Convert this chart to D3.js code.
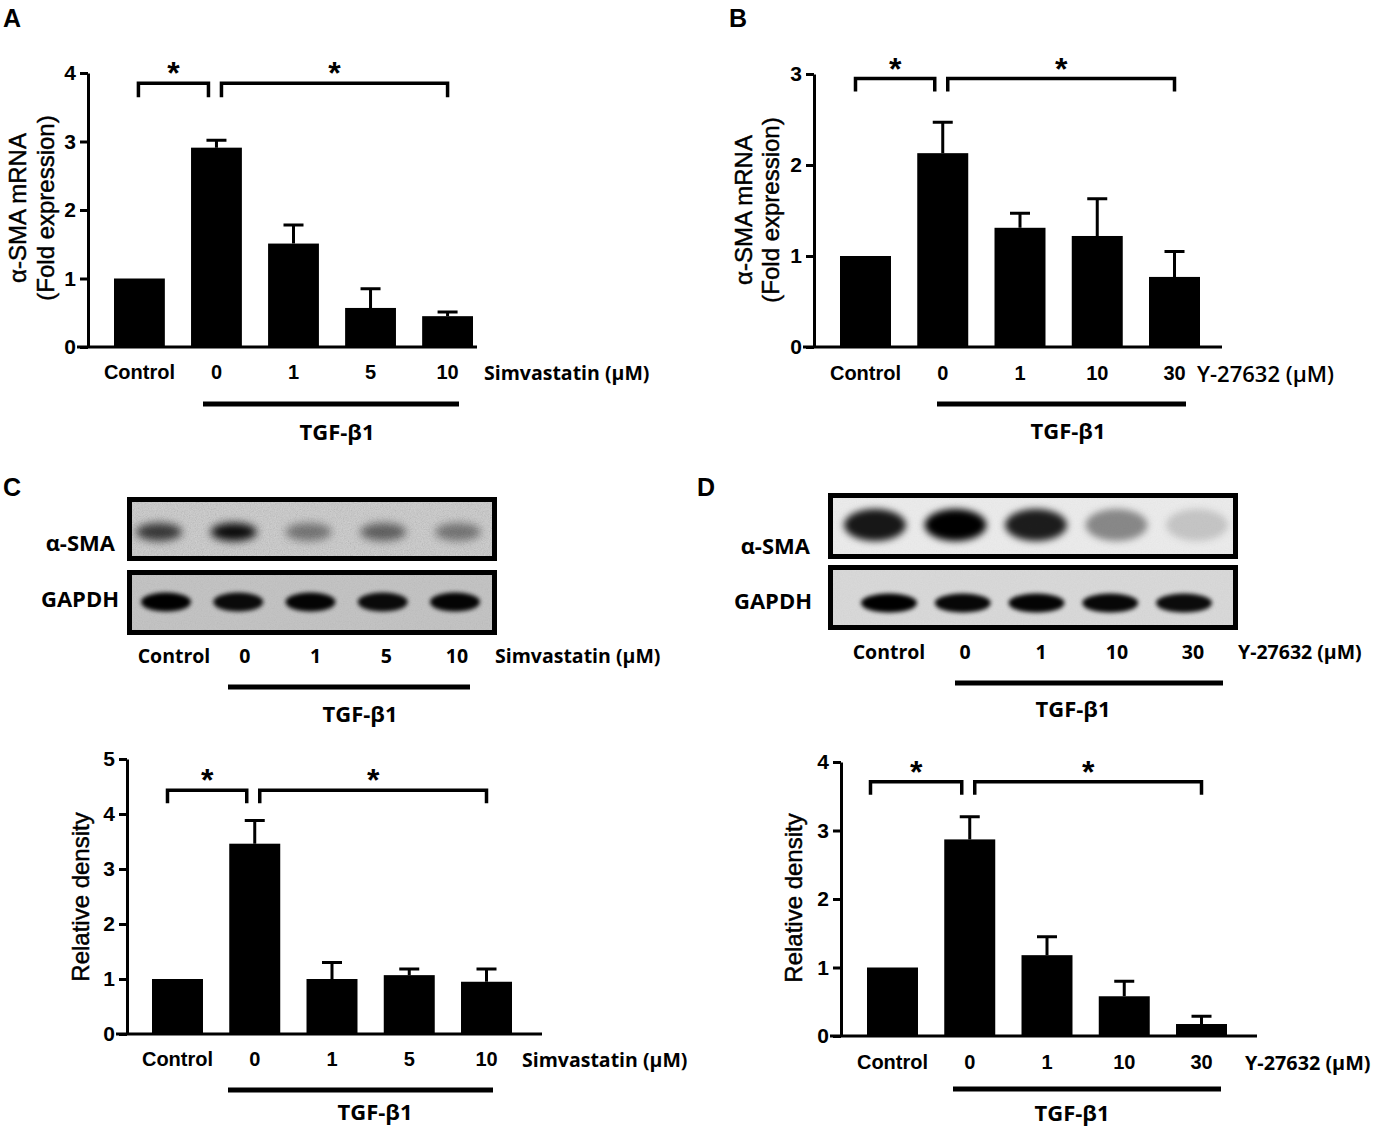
<!DOCTYPE html>
<html>
<head>
<meta charset="utf-8">
<style>
    body { margin: 0; background: #fff; }
    svg { display: block; }
    .axis .tick line, .axis .domain { stroke: #000; stroke-width: 3; }
    .lbl { font-family: "Liberation Sans", Arial, sans-serif; font-weight: bold; font-size: 20px; fill: #000; }
    .cal { font-family: "Open Sans", sans-serif; font-weight: 700; fill: #000; }
    .ytitle { font-family: "Liberation Sans", Arial, sans-serif; font-size: 24px; fill: #000; stroke: #000; stroke-width: 0.45px; }
    .letter { font-family: "Liberation Sans", Arial, sans-serif; font-weight: bold; font-size: 25px; }
    .star { font-family: "Liberation Sans", Arial, sans-serif; font-weight: bold; font-size: 32px; }
</style>
</head>
<body>
<svg width="1378" height="1129"></svg>

<script src="https://cdn.jsdelivr.net/npm/d3@7"></script>
<script>
// ---- data ----
const simGroups = ["Control", "0", "1", "5", "10"]
const rockGroups = ["Control", "0", "1", "10", "30"]

// A: alpha-SMA mRNA, simvastatin
const mrnaSimMean = [1.0, 2.91, 1.51, 0.57, 0.45]
const mrnaSimErr  = [0, 0.11, 0.27, 0.28, 0.06]
// B: alpha-SMA mRNA, Y-27632
const mrnaRockMean = [1.0, 2.13, 1.31, 1.22, 0.77]
const mrnaRockErr  = [0, 0.34, 0.16, 0.41, 0.28]
// C: relative density, simvastatin
const densSimMean = [1.0, 3.46, 1.0, 1.07, 0.95]
const densSimErr  = [0, 0.42, 0.30, 0.11, 0.23]
// D: relative density, Y-27632
const densRockMean = [1.0, 2.87, 1.18, 0.58, 0.175]
const densRockErr  = [0, 0.33, 0.27, 0.22, 0.115]

const ticksA = [0, 1, 2, 3, 4]
const ticksB = [0, 1, 2, 3]
const ticksC = [0, 1, 2, 3, 4, 5]
const ticksD = [0, 1, 2, 3, 4]

// western blot band darkness (0 = none, 1 = black)
const blotSimSMA   = [0.72, 0.95, 0.42, 0.52, 0.42]
const blotSimGAPDH = [1.0, 0.95, 0.98, 0.95, 0.98]
const blotRockSMA   = [0.9, 1.0, 0.88, 0.42, 0.16]
const blotRockGAPDH = [1.0, 0.97, 0.98, 0.97, 0.95]

let svg = d3.select("svg")
let defs = svg.append("defs")

function blurFilter(id, sd) {
    defs.append("filter").attr("id", id)
        .attr("x", "-60%").attr("y", "-120%").attr("width", "220%").attr("height", "340%")
        .append("feGaussianBlur").attr("stdDeviation", sd)
}
blurFilter("blur-soft", 4.5)
blurFilter("blur-mid", 3.5)
blurFilter("blur-hard", 2.2)

let grain = defs.append("filter").attr("id", "grain")
grain.append("feTurbulence").attr("type", "fractalNoise")
    .attr("baseFrequency", 0.85).attr("numOctaves", 2).attr("seed", 4)
grain.append("feColorMatrix").attr("type", "matrix")
    .attr("values", "1 0 0 0 0  1 0 0 0 0  1 0 0 0 0  0 0 0 0 1")

// ---- bar chart panels ----
let panels = [
    { groups: simGroups, mean: mrnaSimMean, err: mrnaSimErr, ticks: ticksA,
      axisX: 88, y0: 347, yTop: 73, bars: [114, 473], axisEnd: 477,
      title: ["α-SMA mRNA", "(Fold expression)"], titleX: [17, 45], titleY: 208,
      labelY: 372, unit: "Simvastatin (μM)", unitX: 484, unitSize: 19.5, unitWeight: 700,
      tgf: [203, 459, 404], tgfLabel: [337, 431], bracketV: 3.85, drop: 14, leftStart: -1 },
    { groups: rockGroups, mean: mrnaRockMean, err: mrnaRockErr, ticks: ticksB,
      axisX: 814, y0: 347, yTop: 74, bars: [840, 1200], axisEnd: 1222,
      title: ["α-SMA mRNA", "(Fold expression)"], titleX: [743, 770], titleY: 210,
      labelY: 373, unit: "Y-27632 (μM)", unitX: 1197, unitSize: 22, unitWeight: 600,
      tgf: [937, 1186, 404], tgfLabel: [1068, 430], bracketV: 2.95, drop: 13, leftStart: -10 },
    { groups: simGroups, mean: densSimMean, err: densSimErr, ticks: ticksC,
      axisX: 127, y0: 1034, yTop: 759, bars: [152, 512], axisEnd: 542,
      title: ["Relative density"], titleX: [80], titleY: 897,
      labelY: 1059, unit: "Simvastatin (μM)", unitX: 522, unitSize: 19.5, unitWeight: 700,
      tgf: [228, 493, 1090], tgfLabel: [375, 1111], bracketV: 4.43, drop: 13, leftStart: -10 },
    { groups: rockGroups, mean: densRockMean, err: densRockErr, ticks: ticksD,
      axisX: 841, y0: 1036, yTop: 762, bars: [867, 1227], axisEnd: 1257,
      title: ["Relative density"], titleX: [793], titleY: 898,
      labelY: 1062, unit: "Y-27632 (μM)", unitX: 1245, unitSize: 19.8, unitWeight: 700,
      tgf: [953, 1221, 1089], tgfLabel: [1072, 1112], bracketV: 3.71, drop: 13, leftStart: -22 }
]

panels.forEach(p => {
    let g = svg.append("g")
    let max = d3.max(p.ticks)

    let y = d3.scaleLinear().domain([0, max]).range([p.y0, p.yTop])
    let x = d3.scaleBand().domain(p.groups).range(p.bars)
        .paddingInner(0.34).paddingOuter(0)
    let cx = d => x(d) + x.bandwidth() / 2

    // bars
    g.selectAll("rect.bar")
        .data(p.groups)
        .join("rect")
        .attr("class", "bar")
        .attr("x", d => x(d))
        .attr("width", x.bandwidth())
        .attr("y", (d, i) => y(p.mean[i]))
        .attr("height", (d, i) => p.y0 - y(p.mean[i]))
        .attr("fill", "#000")

    // error bars (upper only)
    g.selectAll("path.err")
        .data(p.groups.filter((d, i) => p.err[i] > 0))
        .join("path")
        .attr("class", "err")
        .attr("d", d => {
            let i = p.groups.indexOf(d)
            let top = y(p.mean[i] + p.err[i])
            return `M${cx(d)},${y(p.mean[i])}V${top}M${cx(d) - 10},${top}H${cx(d) + 10}`
        })
        .attr("stroke", "#000").attr("stroke-width", 3).attr("fill", "none")

    // axes
    g.append("g")
        .attr("class", "axis")
        .attr("transform", `translate(${p.axisX},0)`)
        .call(d3.axisLeft(y).tickValues(p.ticks).tickSize(8).tickSizeOuter(0).tickPadding(4).tickFormat(d3.format("d")))
        .call(a => a.selectAll(".tick text")
            .style("font-family", "'Liberation Sans', Arial, sans-serif")
            .style("font-weight", "bold")
            .style("font-size", "21px")
            .style("fill", "#000"))

    g.append("line")
        .attr("x1", p.axisX - 11).attr("x2", p.axisEnd)
        .attr("y1", p.y0).attr("y2", p.y0)
        .attr("stroke", "#000").attr("stroke-width", 3)

    // y title
    p.title.forEach((t, k) => {
        g.append("text")
            .attr("class", "ytitle")
            .attr("transform", `translate(${p.titleX[k]},${p.titleY}) rotate(-90)`)
            .attr("text-anchor", "middle")
            .attr("dominant-baseline", "central")
            .text(t)
    })

    // category labels
    g.selectAll("text.lbl")
        .data(p.groups)
        .join("text")
        .attr("class", "lbl")
        .attr("x", d => cx(d))
        .attr("y", p.labelY)
        .attr("text-anchor", "middle")
        .attr("dominant-baseline", "central")
        .text(d => d)

    g.append("text")
        .attr("class", "cal")
        .attr("x", p.unitX).attr("y", p.labelY)
        .attr("dominant-baseline", "central")
        .style("font-size", p.unitSize + "px")
        .style("font-weight", p.unitWeight)
        .text(p.unit)

    // TGF-b1 bar
    g.append("line")
        .attr("x1", p.tgf[0]).attr("x2", p.tgf[1])
        .attr("y1", p.tgf[2]).attr("y2", p.tgf[2])
        .attr("stroke", "#000").attr("stroke-width", 5)
    g.append("text")
        .attr("class", "cal")
        .attr("x", p.tgfLabel[0]).attr("y", p.tgfLabel[1])
        .attr("text-anchor", "middle").attr("dominant-baseline", "central")
        .style("font-size", "22px")
        .text("TGF-β1")

    // significance brackets
    let last = p.groups[p.groups.length - 1]
    let by = y(p.bracketV)
    let brackets = [
        [cx(p.groups[0]) + p.leftStart, cx(p.groups[1]) - 8],
        [cx(p.groups[1]) + 5, cx(last)]
    ]
    brackets.forEach(b => {
        g.append("path")
            .attr("d", `M${b[0]},${by + p.drop}V${by}H${b[1]}V${by + p.drop}`)
            .attr("fill", "none").attr("stroke", "#000").attr("stroke-width", 3.5)
        g.append("text")
            .attr("class", "star")
            .attr("x", (b[0] + b[1]) / 2).attr("y", by + 1)
            .attr("text-anchor", "middle")
            .text("*")
    })
})

// ---- western blots ----
let blots = [
    { groups: simGroups, box: [127, 497], labels: [174, 457],
      rows: [
        { name: "α-SMA", band: blotSimSMA, lanes: [159, 458], top: 497, bottom: 561, cy: 532, rx: 23, ry: 9, blur: "blur-soft", bg: "#d3d3d3", grain: 0.22, labelY: 542, labelX: 115 },
        { name: "GAPDH", band: blotSimGAPDH, lanes: [166, 455], top: 570, bottom: 635, cy: 602, rx: 25, ry: 9.5, blur: "blur-hard", bg: "#c6c6c6", grain: 0.1, labelY: 598, labelX: 119 }
      ],
      labelY: 655, unit: "Simvastatin (μM)", unitX: 495, tgf: [228, 470, 687], tgfLabel: [360, 713] },
    { groups: rockGroups, box: [828, 1238], labels: [889, 1193],
      rows: [
        { name: "α-SMA", band: blotRockSMA, lanes: [875, 1197], top: 493, bottom: 559, cy: 525, rx: 31, ry: 16, blur: "blur-mid", bg: "#ececec", grain: 0.05, labelY: 545, labelX: 810 },
        { name: "GAPDH", band: blotRockGAPDH, lanes: [889, 1184], top: 565, bottom: 630, cy: 603, rx: 28, ry: 9.5, blur: "blur-hard", bg: "#dadada", grain: 0.06, labelY: 600, labelX: 812 }
      ],
      labelY: 651, unit: "Y-27632 (μM)", unitX: 1238, tgf: [955, 1223, 683], tgfLabel: [1073, 708] }
]

blots.forEach((b, bi) => {
    let g = svg.append("g")
    let labelX = d3.scalePoint().domain(b.groups).range(b.labels)
    let bw = 5

    b.rows.forEach((r, ri) => {
        let lane = d3.scalePoint().domain(b.groups).range(r.lanes)
        let id = `clip-${bi}-${ri}`
        defs.append("clipPath").attr("id", id)
            .append("rect")
            .attr("x", b.box[0] + bw).attr("y", r.top + bw)
            .attr("width", b.box[1] - b.box[0] - 2 * bw)
            .attr("height", r.bottom - r.top - 2 * bw)

        let inner = g.append("g").attr("clip-path", `url(#${id})`)
        inner.append("rect")
            .attr("x", b.box[0]).attr("y", r.top)
            .attr("width", b.box[1] - b.box[0]).attr("height", r.bottom - r.top)
            .attr("fill", r.bg)
        inner.append("rect")
            .attr("x", b.box[0]).attr("y", r.top)
            .attr("width", b.box[1] - b.box[0]).attr("height", r.bottom - r.top)
            .attr("filter", "url(#grain)")
            .attr("opacity", r.grain)
            .style("mix-blend-mode", "multiply")

        inner.selectAll("ellipse")
            .data(r.band)
            .join("ellipse")
            .attr("cx", (d, i) => lane(b.groups[i]))
            .attr("cy", r.cy)
            .attr("rx", r.rx)
            .attr("ry", r.ry)
            .attr("fill", "#050505")
            .attr("fill-opacity", d => d)
            .attr("filter", `url(#${r.blur})`)

        g.append("rect")
            .attr("x", b.box[0] + bw / 2).attr("y", r.top + bw / 2)
            .attr("width", b.box[1] - b.box[0] - bw).attr("height", r.bottom - r.top - bw)
            .attr("fill", "none").attr("stroke", "#000").attr("stroke-width", bw)

        g.append("text")
            .attr("class", "cal")
            .attr("x", r.labelX).attr("y", r.labelY)
            .attr("text-anchor", "end").attr("dominant-baseline", "central")
            .style("font-size", "22px")
            .text(r.name)
    })

    g.selectAll("text.lane")
        .data(b.groups)
        .join("text")
        .attr("class", "cal lane")
        .attr("x", d => labelX(d))
        .attr("y", b.labelY)
        .attr("text-anchor", "middle").attr("dominant-baseline", "central")
        .style("font-size", "19.5px")
        .text(d => d)

    g.append("text")
        .attr("class", "cal")
        .attr("x", b.unitX).attr("y", b.labelY)
        .attr("dominant-baseline", "central")
        .style("font-size", "19.5px")
        .text(b.unit)

    g.append("line")
        .attr("x1", b.tgf[0]).attr("x2", b.tgf[1])
        .attr("y1", b.tgf[2]).attr("y2", b.tgf[2])
        .attr("stroke", "#000").attr("stroke-width", 5)
    g.append("text")
        .attr("class", "cal")
        .attr("x", b.tgfLabel[0]).attr("y", b.tgfLabel[1])
        .attr("text-anchor", "middle").attr("dominant-baseline", "central")
        .style("font-size", "22px")
        .text("TGF-β1")
})

// panel letters
let letters = [["A", 3, 27], ["B", 729, 27], ["C", 3, 496], ["D", 697, 496]]
svg.selectAll("text.letter")
    .data(letters)
    .join("text")
    .attr("class", "letter")
    .attr("x", d => d[1]).attr("y", d => d[2])
    .text(d => d[0])
</script>
</body>
</html>
